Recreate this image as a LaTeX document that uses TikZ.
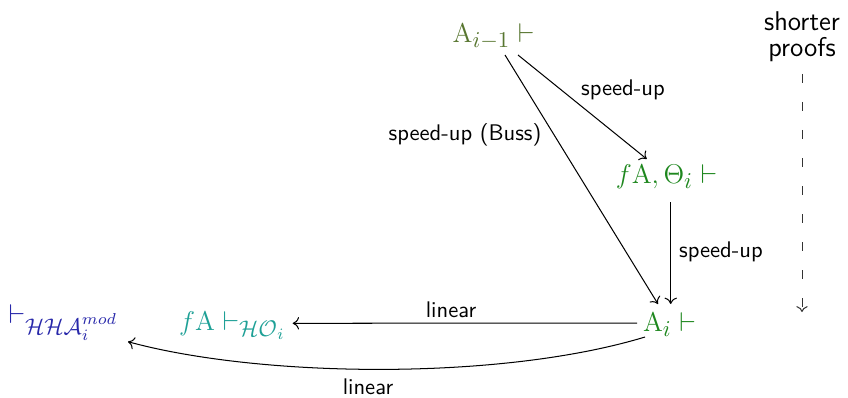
\documentclass[tikz,border=0pt]{standalone}
\usetikzlibrary{arrows.meta}
\DeclareMathSizes{12}{12}{9.6}{7.2}
\definecolor{colive}{RGB}{88,118,48}
\definecolor{cgreen}{RGB}{30,135,30}
\definecolor{cteal}{RGB}{30,160,150}
\definecolor{cblue}{RGB}{40,40,170}
\tikzset{
  mathnode/.style={inner sep=0pt, outer sep=0pt, anchor=base, font=\large},
  lbl/.style={font=\sffamily, inner sep=0pt},
  arr/.style={-{To[length=2.8pt,width=5.5pt]}, line width=0.45pt},
  dasharr/.style={-{To[length=2.6pt,width=5pt]}, line width=0.45pt, black!80, dash pattern=on 4pt off 8.4pt}
}
\begin{document}
\begin{tikzpicture}[x=0.4425pt,y=-0.4425pt]
\useasboundingbox (0,0) rectangle (848,397);
\node[mathnode, text=colive] (a) at (493.5,42) {$\mathrm{A}_{i-1}\vdash$};
\node[mathnode, text=cgreen] (b) at (666.5,183) {$f\mathrm{A},\Theta_i\vdash$};
\node[mathnode, text=cgreen] (c) at (669.5,331) {$\mathrm{A}_i\vdash$};
\node[mathnode, text=cteal] (d) at (232.5,330) {$f\mathrm{A}\vdash_{\mathcal{HO}_i}$};
\node[mathnode, text=cblue] (e) at (63.5,323) {$\vdash_{\mathcal{HHA}_i^{mod}}$};
\node[lbl, font=\sffamily\large] (s1) at (802,21) {shorter};
\node[lbl, font=\sffamily\large] (s2) at (802,50) {proofs};
\coordinate (dend) at (802,312);

\node[lbl] (l1) at (623,90) {speed-up};
\node[lbl] (l2) at (465,135) {speed-up (Buss)};
\node[lbl] (l3) at (721,252) {speed-up};
\node[lbl] (l4) at (451,310) {linear};
\node[lbl] (l5) at (368,387) {linear};

\draw[arr] ([shift={(24.5,13)}]a.base) -- ([shift={(-19.8,-24)}]b.base);
\draw[arr] ([shift={(11.5,13)}]a.base) -- ([shift={(-11.5,-27)}]c.base);
\draw[arr] ([shift={(4.2,19)}]b.base) -- ([shift={(1.2,-27)}]c.base);
\draw[arr] ([shift={(-32.5,-8)}]c.base) -- ([shift={(60.2,-6.7)}]d.base);
\draw[arr] ([shift={(-24.5,6)}]c.base) .. controls +(-145,44) and +(132,36) .. ([shift={(64.5,18.7)}]e.base);
\draw[dasharr] ([yshift=-5pt]s2.south) -- (dend);
\end{tikzpicture}
\end{document}
